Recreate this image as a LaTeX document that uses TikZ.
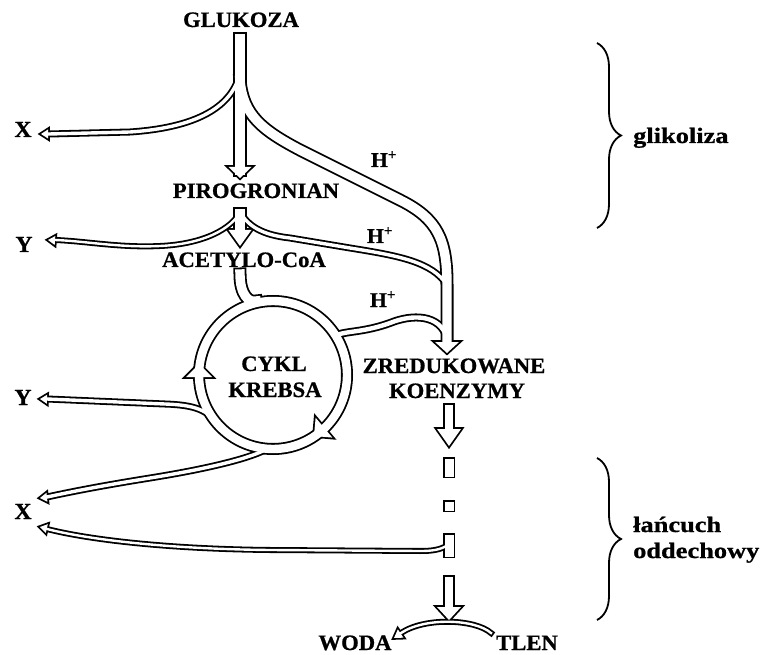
\documentclass[tikz,border=0pt]{standalone}
\usepackage{fontspec}
\setmainfont{Liberation Serif}[FakeStretch=1.03, BoldFeatures={FakeBold=0.8}]
\newfontfamily\sidefont{Liberation Serif}[FakeStretch=1.2, BoldFeatures={FakeBold=0.8}]
\usetikzlibrary{decorations.pathreplacing}

\tikzset{
  lbl/.style={font=\fontsize{22}{26}\selectfont\bfseries, inner sep=0pt, anchor=base},
  hlbl/.style={font=\fontsize{21}{25}\selectfont\bfseries, inner sep=0pt, anchor=base},
  xylbl/.style={font=\fontsize{23}{27}\selectfont\bfseries, inner sep=0pt, anchor=base},
  side/.style={font=\sidefont\fontsize{22}{26}\selectfont\bfseries, inner sep=0pt, anchor=base west},
  brace/.style={decorate, decoration={brace, amplitude=24pt}, line width=1.8pt},
  pics/head/.style args={#1/#2}{code={\path[pic actions] (0,0) -- (-#1,#2) -- (-#1,-#2) -- cycle;}},
}

% all hollow pipes, drawn twice (outline, then inside)
\newcommand\pipes{%
  \draw[tube=14pt] (gtop) -- (gend);
  \draw[tube=7pt] (gx) .. controls (234,102) and (205,127) .. (130,132) -- (xa);
  \draw[tube=13pt] (gh) .. controls (243,115) and (262,130) .. (300,150) -- (400,200)
    .. controls (438,219) and (447,240) .. (447,285) -- (hend);
  \draw[tube=14pt] (ptop) -- (pend);
  \draw[tube=6pt] (py) .. controls (232,228) and (205,244) .. (160,246)
    .. controls (120,248) and (85,241) .. (ya);
  \draw[tube=7pt] (ph) .. controls (248,226) and (262,235) .. (290,238) -- (350,248)
    .. controls (400,256) and (432,262) .. (hjoin);
  \draw[tube=13pt] (atop) .. controls (240,295) and (249,303) .. (kin);
  \draw[tube=12pt] (ctr) circle[radius=74];
  \draw[tube=8pt] (kh) .. controls (348,331) and (365,332) .. (390,323)
    .. controls (412,314) and (440,314) .. (hin);
  \draw[tube=7pt] (ky) .. controls (208,410) and (195,405) .. (165,404) -- (yb);
  \draw[tube=7pt] (kx) .. controls (245,460) and (200,470) .. (150,478)
    .. controls (100,486) and (70,492) .. (xb);
  \draw[tube=6pt] (bx) .. controls (440,550) and (432,551) .. (420,551) -- (270,550)
    .. controls (170,549) and (90,540) .. (xc);
  \draw[tube=12pt] (ztop) -- (zend);
  \draw[tube=12pt] (ltop) -- (lend);
  \draw[tube=6pt] (tlen) .. controls (475,619) and (425,617) .. (woda);
  \pic[hd, rotate=-90] at (gtip) {head=11/11.5};
  \pic[hd, rotate=-90] at (ptip) {head=16/11.5};
  \pic[hd, rotate=-90] at (htip) {head=11/12};
  \pic[hd, rotate=-90] at (ztip) {head=17/12};
  \pic[hd, rotate=-90] at (ltip) {head=13/12};
  \pic[hd, rotate=180] at (xatip) {head=7/4.5};
  \pic[hd, rotate=176] at (yatip) {head=7/4.5};
  \pic[hd, rotate=178] at (ybtip) {head=7/4.5};
  \pic[hd, rotate=186] at (xbtip) {head=7/4.5};
  \pic[hd, rotate=167] at (xctip) {head=7/4.5};
  \pic[hd, rotate=214] at (wtip) {head=8/5};
  \pic[hd, rotate=90] at (k1) {head=13/13};
  \pic[hd, rotate=220] at (k2) {head=13/13};
  \path[hd] (444.5,458.5) rectangle (453.5,476.5);
  \path[hd] (444.5,501.5) rectangle (453.5,510.5);
  \path[hd] (444.5,534.5) rectangle (453.5,556.5);
}

\begin{document}
\begin{tikzpicture}[x=1pt, y=-1pt]
  \useasboundingbox (0,0) rectangle (766,655);

  \path
    coordinate (gtop)  at (240,39)
    coordinate (gx)    at (240,72)
    coordinate (gh)    at (240,80)
    coordinate (gend)  at (240,170)
    coordinate (gtip)  at (240,178)
    coordinate (ptop)  at (240,214)
    coordinate (py)    at (240,212)
    coordinate (ph)    at (240,212)
    coordinate (pend)  at (240,232)
    coordinate (ptip)  at (240,246)
    coordinate (atop)  at (240,274)
    coordinate (kin)   at (256,301)
    coordinate (ctr)   at (273,375)
    coordinate (kh)    at (337.5,334.7)
    coordinate (ky)    at (218,425)
    coordinate (kx)    at (265,450)
    coordinate (k1)    at (199,364)
    coordinate (k2)    at (314,436)
    coordinate (hjoin) at (447,285)
    coordinate (hin)   at (447,338)
    coordinate (hend)  at (447,342)
    coordinate (htip)  at (447,353)
    coordinate (xa)    at (49,134)
    coordinate (xatip) at (41,134)
    coordinate (ya)    at (55,240)
    coordinate (yatip) at (48,240)
    coordinate (yb)    at (47,399)
    coordinate (ybtip) at (40,399)
    coordinate (xb)    at (47,497)
    coordinate (xbtip) at (40,498)
    coordinate (bx)    at (448,545)
    coordinate (xc)    at (47,529)
    coordinate (xctip) at (40,527)
    coordinate (ztop)  at (449,409)
    coordinate (zend)  at (449,432)
    coordinate (ztip)  at (449,446)
    coordinate (ltop)  at (449,581)
    coordinate (lend)  at (449,610)
    coordinate (ltip)  at (449,620)
    coordinate (tlen)  at (491,633)
    coordinate (woda)  at (401,633)
    coordinate (wtip)  at (394,638)
  ;

  \begin{scope}[tube/.style={line width=#1, line cap=rect},
                hd/.style={fill=black, draw=black, line width=3.6pt, line join=miter}]
    \pipes
  \end{scope}
  \begin{scope}[tube/.style={line width=#1-3.6pt, line cap=rect, white},
                hd/.style={fill=white}]
    \pipes
  \end{scope}

  \node[lbl] (glukoza) at (241,27) {GLUKOZA};
  \node[lbl] (pirog)   at (256,198) {PIROGRONIAN};
  \node[lbl] (acetyl)  at (244,267) {ACETYLO-CoA};
  \node[lbl] (cykl)    at (274,371) {CYKL};
  \node[lbl] (krebsa)  at (275,397) {KREBSA};
  \node[lbl] (zred)    at (454,373) {ZREDUKOWANE};
  \node[lbl] (koenz)   at (457,398) {KOENZYMY};
  \node[lbl] (wodal)   at (355,650) {WODA};
  \node[lbl] (tlenl)   at (527,650) {TLEN};
  \node[hlbl] (h1) at (384,167) {H\textsuperscript{+}};
  \node[hlbl] (h2) at (380,243) {H\textsuperscript{+}};
  \node[hlbl] (h3) at (383,307) {H\textsuperscript{+}};
  \node[xylbl] (x1) at (23,137) {X};
  \node[xylbl] (y1) at (24,252) {Y};
  \node[xylbl] (y2) at (23,405) {Y};
  \node[xylbl] (x2) at (23,519) {X};

  \draw[brace] (597,43) -- (597,228);
  \draw[brace] (597,458) -- (597,620);
  \node[side] (glik)   at (633,143) {glikoliza};
  \node[side] (lanc)   at (633,532) {łańcuch};
  \node[side] (oddech) at (633,558) {oddechowy};

\end{tikzpicture}
\end{document}
